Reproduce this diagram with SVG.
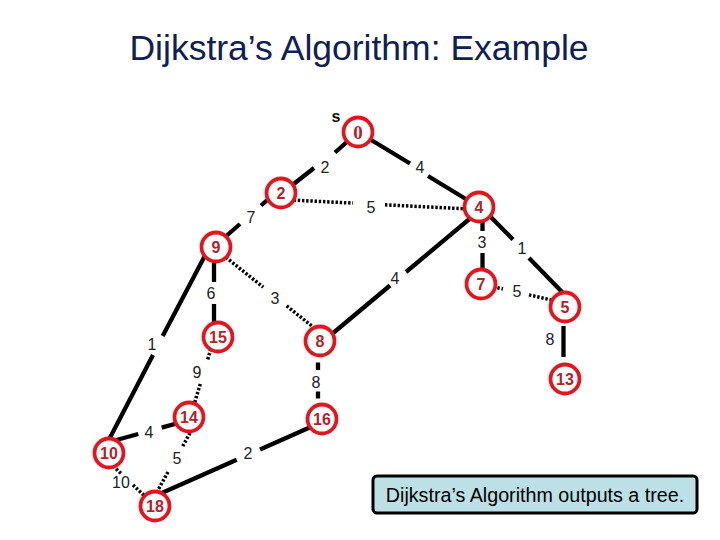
<svg xmlns="http://www.w3.org/2000/svg" width="720" height="540" viewBox="0 0 720 540">
<style>
.solid{stroke:#000;stroke-width:4.3;fill:none}
.dotted{stroke:#000;stroke-width:3.5;stroke-dasharray:2.4 1.8;fill:none}
.node circle{fill:#fff;stroke:#e3161e;stroke-width:3.8}
.nv{font-family:"Liberation Sans",Arial,sans-serif;font-weight:bold;font-size:16px;fill:#b0232b;text-anchor:middle}
.nv0{font-family:"Liberation Serif","Times New Roman",serif;font-weight:bold;font-size:19px;fill:#b0232b;text-anchor:middle}
.lbl{font-family:"Liberation Sans",Arial,sans-serif;font-size:16px;fill:#222;text-anchor:middle}
</style>
<rect width="720" height="540" fill="#fff"/>
<text x="359" y="60" font-family="'Liberation Sans',Arial,sans-serif" font-size="35.5" fill="#102050" text-anchor="middle">Dijkstra’s Algorithm: Example</text>

<g id="connectors">
  <!-- 0-2 -->
  <line class="solid" x1="358" y1="132" x2="335" y2="152.5"/>
  <line class="solid" x1="314" y1="168" x2="281" y2="194"/>
  <!-- 0-4 -->
  <line class="solid" x1="358" y1="132" x2="410" y2="163.5"/>
  <line class="solid" x1="428" y1="176" x2="479" y2="207"/>
  <!-- 2-4 dotted -->
  <line class="dotted" x1="281" y1="199.5" x2="353" y2="203.1"/>
  <line class="dotted" x1="385" y1="204.8" x2="479" y2="209.5"/>
  <!-- 2-9 -->
  <line class="solid" x1="281" y1="188" x2="261" y2="205.5"/>
  <line class="solid" x1="240" y1="224" x2="216" y2="245"/>
  <!-- 4-7 -->
  <line class="solid" x1="482.5" y1="207" x2="482.5" y2="231"/>
  <line class="solid" x1="482.5" y1="253" x2="482.5" y2="284"/>
  <!-- 4-5 -->
  <line class="solid" x1="479" y1="205" x2="513" y2="239.5"/>
  <line class="solid" x1="529" y1="258" x2="563" y2="293"/>
  <!-- 7-5 dotted -->
  <line class="dotted" x1="481" y1="284" x2="503" y2="289"/>
  <line class="dotted" x1="529" y1="294.9" x2="565" y2="303"/>
  <!-- 5-13 -->
  <line class="solid" x1="563.5" y1="326" x2="563.5" y2="357"/>
  <!-- 4-8 -->
  <line class="solid" x1="320" y1="344" x2="390" y2="285.5"/>
  <line class="solid" x1="406" y1="272" x2="479" y2="211"/>
  <!-- 9-15 -->
  <line class="solid" x1="214" y1="247" x2="214" y2="282"/>
  <line class="solid" x1="214" y1="304" x2="214" y2="337"/>
  <!-- 9-8 dotted -->
  <line class="dotted" x1="216" y1="249.5" x2="263.3" y2="287.2"/>
  <line class="dotted" x1="286.7" y1="305.9" x2="320" y2="332.5"/>
  <!-- 8-16 -->
  <line class="solid" x1="318" y1="362.5" x2="318" y2="370"/>
  <line class="solid" x1="318" y1="391.5" x2="318" y2="398.5"/>
  <!-- 9-10 -->
  <line class="solid" x1="209.5" y1="247" x2="162.7" y2="336"/>
  <line class="solid" x1="153" y1="355" x2="102" y2="453"/>
  <!-- 15-14 dotted -->
  <line class="dotted" x1="214.6" y1="337" x2="207.5" y2="360"/>
  <line class="dotted" x1="200.3" y1="384" x2="190.3" y2="417"/>
  <!-- 10-14 -->
  <line class="solid" x1="109" y1="442" x2="138.3" y2="434"/>
  <line class="solid" x1="161.7" y1="427.6" x2="189" y2="420"/>
  <!-- 14-18 dotted -->
  <line class="dotted" x1="190" y1="433" x2="182" y2="447.5"/>
  <line class="dotted" x1="168" y1="472" x2="158" y2="490"/>
  <!-- 10-18 dotted -->
  <line class="dotted" x1="110" y1="463" x2="121" y2="473.5"/>
  <line class="dotted" x1="133" y1="485" x2="150" y2="501"/>
  <!-- 18-16 -->
  <line class="solid" x1="155" y1="496" x2="236.7" y2="459.8"/>
  <line class="solid" x1="260" y1="449.5" x2="322" y2="422"/>

  <text class="lbl" x="325" y="173">2</text>
  <text class="lbl" x="420" y="173">4</text>
  <text class="lbl" x="371" y="213">5</text>
  <text class="lbl" x="251" y="223">7</text>
  <text class="lbl" x="482" y="248">3</text>
  <text class="lbl" x="522" y="254">1</text>
  <text class="lbl" x="395" y="284">4</text>
  <text class="lbl" x="517" y="297">5</text>
  <text class="lbl" x="550" y="345">8</text>
  <text class="lbl" x="211" y="299">6</text>
  <text class="lbl" x="275" y="304">3</text>
  <text class="lbl" x="152" y="350">1</text>
  <text class="lbl" x="197" y="378">9</text>
  <text class="lbl" x="316" y="388">8</text>
  <text class="lbl" x="149" y="438">4</text>
  <text class="lbl" x="177" y="464">5</text>
  <text class="lbl" x="121" y="488">10</text>
  <text class="lbl" x="248" y="459">2</text>
</g>

<text x="336" y="122" font-family="'Liberation Sans',Arial,sans-serif" font-weight="bold" font-size="16" fill="#111" text-anchor="middle">s</text>

<g id="n0" class="node"><circle cx="358" cy="132" r="14.5"/><text class="nv0" x="358" y="139">0</text></g>
<g id="n2" class="node"><circle cx="281" cy="193" r="14.5"/><text class="nv" x="281" y="199">2</text></g>
<g id="n4" class="node"><circle cx="479" cy="207" r="14.5"/><text class="nv" x="479" y="213">4</text></g>
<g id="n9" class="node"><circle cx="216" cy="247" r="14.5"/><text class="nv" x="216" y="253">9</text></g>
<g id="n7" class="node"><circle cx="481" cy="284" r="14.5"/><text class="nv" x="481" y="290">7</text></g>
<g id="n5" class="node"><circle cx="565" cy="307" r="14.5"/><text class="nv" x="565" y="313">5</text></g>
<g id="n15" class="node"><circle cx="218" cy="337" r="14.5"/><text class="nv" x="218" y="343">15</text></g>
<g id="n8" class="node"><circle cx="320" cy="341" r="14.5"/><text class="nv" x="320" y="347">8</text></g>
<g id="n13" class="node"><circle cx="565" cy="379" r="14.5"/><text class="nv" x="565" y="385">13</text></g>
<g id="n14" class="node"><circle cx="189" cy="417" r="14.5"/><text class="nv" x="189" y="423">14</text></g>
<g id="n16" class="node"><circle cx="322" cy="419" r="14.5"/><text class="nv" x="322" y="425">16</text></g>
<g id="n10" class="node"><circle cx="109" cy="453" r="14.5"/><text class="nv" x="109" y="459">10</text></g>
<g id="n18" class="node"><circle cx="155" cy="506" r="14.5"/><text class="nv" x="155" y="512">18</text></g>

<g id="note">
  <rect x="373" y="476" width="324" height="37" rx="4" fill="#bde0e6" stroke="#000" stroke-width="3"/>
  <text x="535" y="502" font-family="'Liberation Sans',Arial,sans-serif" font-size="19.7" fill="#000" text-anchor="middle">Dijkstra’s Algorithm outputs a tree.</text>
</g>
</svg>
